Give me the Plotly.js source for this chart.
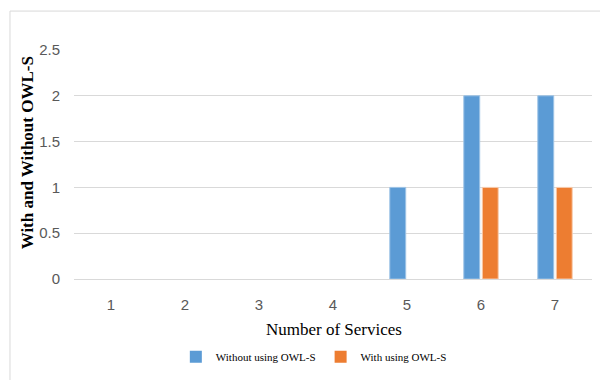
<!DOCTYPE html>
<html>
<head>
<meta charset="utf-8">
<script src="https://cdn.plot.ly/plotly-3.0.1.min.js"></script>
<style>html,body{margin:0;padding:0;background:#fff;}#chart{width:600px;height:380px;}</style>
</head>
<body>
<div id="chart"></div>
<script>
const categories = ['1', '2', '3', '4', '5', '6', '7'];
const withoutOWLS = [0, 0, 0, 0, 1, 2, 2];
const withOWLS = [0, 0, 0, 0, 0, 1, 1];
const seriesNames = ['Without using OWL-S', 'With using OWL-S'];
const yTicks = [0, 0.5, 1, 1.5, 2, 2.5];
const xTitle = 'Number of Services';
const yTitle = 'With and Without OWL-S';

const traces = [
  {
    type: 'bar', x: categories, y: withoutOWLS, name: seriesNames[0],
    marker: {color: '#5B9BD5', line: {color: '#9DC3E6', width: withoutOWLS.map(v => v ? 1 : 0)}}
  },
  {
    type: 'bar', x: categories, y: withOWLS, name: seriesNames[1],
    marker: {color: '#ED7D31', line: {color: '#F8CBAD', width: withOWLS.map(v => v ? 1 : 0)}}
  }
];

const layout = {
  width: 600, height: 380,
  margin: {l: 74, r: 8, t: 50, b: 95},
  paper_bgcolor: '#fff', plot_bgcolor: '#fff',
  barmode: 'group', bargap: 0.5, bargroupgap: 0.14,
  xaxis: {
    type: 'category',
    tickfont: {family: 'Liberation Sans, Arial, sans-serif', size: 15, color: '#595959'},
    showgrid: false, zeroline: false, showline: false, ticks: '',
    ticklabelstandoff: 15,
    automargin: false
  },
  yaxis: {
    range: [0, 2.5], tickvals: yTicks, ticktext: yTicks.map(String),
    tickfont: {family: 'Liberation Sans, Arial, sans-serif', size: 15, color: '#595959'},
    showgrid: true, gridcolor: '#D9D9D9', gridwidth: 1,
    zeroline: true, zerolinecolor: '#D9D9D9', zerolinewidth: 1,
    showline: false, ticks: '', ticklabelstandoff: 13,
    automargin: false
  },
  annotations: [
    {
      text: xTitle, xref: 'paper', yref: 'paper', x: 0.502, y: -0.2213,
      xanchor: 'center', yanchor: 'middle', showarrow: false,
      font: {family: 'Liberation Serif, Times New Roman, serif', size: 17, color: '#000'}
    },
    {
      text: '<b>' + yTitle + '</b>', xref: 'paper', yref: 'paper', x: -0.0907, y: 0.549,
      xanchor: 'center', yanchor: 'middle', showarrow: false, textangle: -90,
      font: {family: 'Liberation Serif, Times New Roman, serif', size: 17, color: '#000'}
    }
  ],
  showlegend: true,
  legend: {
    orientation: 'h', x: 0.463, xanchor: 'center', y: -0.340, yanchor: 'middle',
    font: {family: 'Liberation Serif, Times New Roman, serif', size: 11, color: '#000'},
    itemwidth: 30, traceorder: 'normal'
  },
  shapes: [{
    type: 'rect', xref: 'paper', yref: 'paper',
    x0: -0.1236, x1: 1.035, y0: -0.447, y1: 1.170,
    line: {color: '#D9D9D9', width: 1}, fillcolor: 'rgba(0,0,0,0)', layer: 'below'
  }]
};

Plotly.newPlot('chart', traces, layout, {displayModeBar: false, staticPlot: true});
</script>
</body>
</html>
